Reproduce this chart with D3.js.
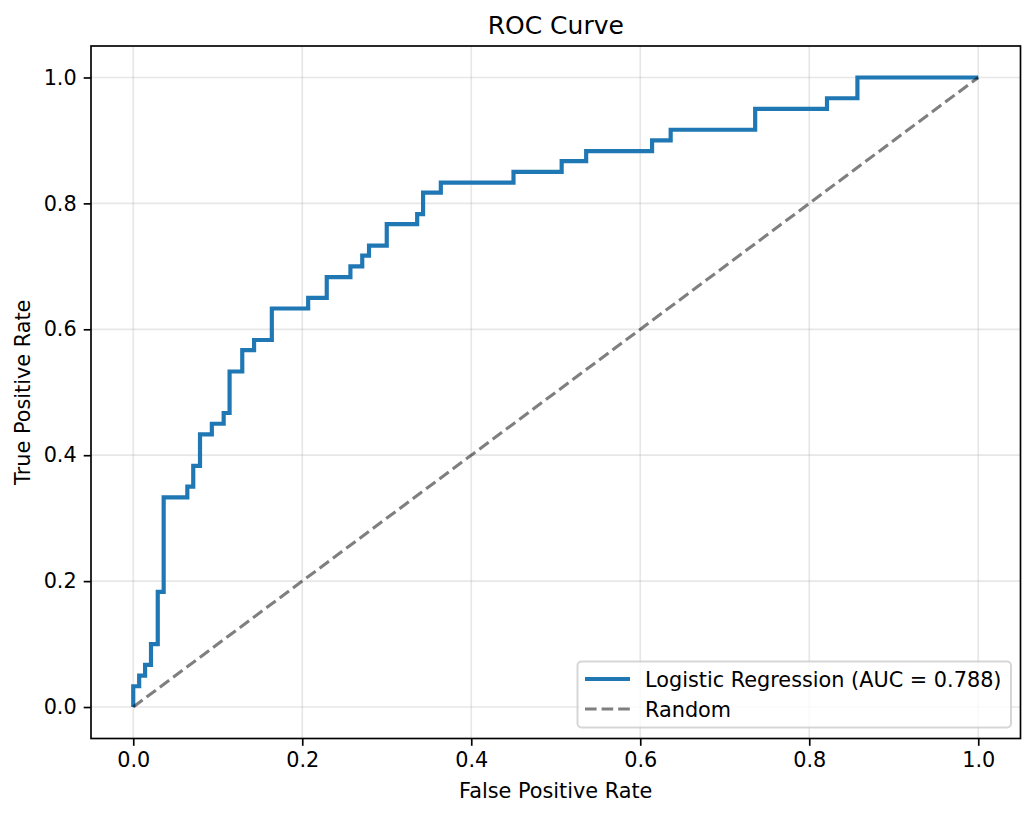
<!DOCTYPE html>
<html>
<head>
<meta charset="utf-8">
<script src="https://cdn.jsdelivr.net/npm/d3@7/dist/d3.min.js"></script>
<style>
  body { margin: 0; background: #fff; }
  svg text { font-family: "DejaVu Sans", sans-serif; fill: #000; }
</style>
</head>
<body>
<svg id="chart" width="1036" height="817"></svg>
<script>
// ROC points (false positive rate, true positive rate)
var fpr = [0, 0, 0.007, 0.014, 0.021, 0.029, 0.036, 0.064, 0.071, 0.079, 0.093,
  0.107, 0.114, 0.129, 0.143, 0.164, 0.207, 0.229, 0.257, 0.271, 0.279,
  0.300, 0.336, 0.343, 0.364, 0.450, 0.507, 0.536, 0.614, 0.636, 0.736,
  0.821, 0.857, 1.0];
var tpr = [0, 0.033, 0.050, 0.067, 0.100, 0.183, 0.333, 0.350, 0.383, 0.433, 0.450,
  0.467, 0.533, 0.567, 0.583, 0.633, 0.650, 0.683, 0.700, 0.717, 0.733,
  0.767, 0.783, 0.817, 0.833, 0.850, 0.867, 0.883, 0.900, 0.917, 0.950,
  0.967, 1.0, 1.0];
var randomLine = [[0, 0], [1, 1]];
var ticks = [0, 0.2, 0.4, 0.6, 0.8, 1.0];
var aucLabel = 'Logistic Regression (AUC = 0.788)';
var randomLabel = 'Random';

// plot box (window.top is read-only, so no "top" here)
var pLeft = 91, pRight = 1020.5, pTop = 46, pBottom = 738.5;
var svg = d3.select('#chart');

var x = d3.scaleLinear().domain([-0.05, 1.05]).range([pLeft, pRight]);
var y = d3.scaleLinear().domain([-0.05, 1.05]).range([pBottom, pTop]);

// grid
var grid = svg.append('g');
grid.selectAll('line.gx').data(ticks).enter().append('line')
  .attr('x1', function (d) { return x(d); }).attr('x2', function (d) { return x(d); })
  .attr('y1', pTop).attr('y2', pBottom)
  .attr('stroke', '#b0b0b0').attr('stroke-opacity', 0.3).attr('stroke-width', 1.67);
grid.selectAll('line.gy').data(ticks).enter().append('line')
  .attr('y1', function (d) { return y(d); }).attr('y2', function (d) { return y(d); })
  .attr('x1', pLeft).attr('x2', pRight)
  .attr('stroke', '#b0b0b0').attr('stroke-opacity', 0.3).attr('stroke-width', 1.67);

var pts = fpr.map(function (v, i) { return [v, tpr[i]]; });

var plot = svg.append('g');
plot.append('path')
  .datum(pts)
  .attr('fill', 'none')
  .attr('stroke', '#1f77b4')
  .attr('stroke-width', 4.17)
  .attr('stroke-linejoin', 'miter')
  .attr('d', d3.line().x(function (d) { return x(d[0]); }).y(function (d) { return y(d[1]); }).curve(d3.curveStepAfter));

plot.append('path')
  .datum(randomLine)
  .attr('fill', 'none')
  .attr('stroke', '#000')
  .attr('stroke-opacity', 0.5)
  .attr('stroke-width', 3.1)
  .attr('stroke-dasharray', '11.6,5')
  .attr('d', d3.line().x(function (d) { return x(d[0]); }).y(function (d) { return y(d[1]); }));

// axes
var fmt = d3.format('.1f');
var xAxis = svg.append('g').attr('transform', 'translate(0,' + pBottom + ')')
  .call(d3.axisBottom(x).tickValues(ticks).tickFormat(fmt).tickSize(7.3).tickPadding(6));
var yAxis = svg.append('g').attr('transform', 'translate(' + pLeft + ',0)')
  .call(d3.axisLeft(y).tickValues(ticks).tickFormat(fmt).tickSize(7.3).tickPadding(7));
[xAxis, yAxis].forEach(function (a) {
  a.select('.domain').remove();
  a.selectAll('.tick line').attr('stroke', '#000').attr('stroke-width', 1.67);
  a.selectAll('.tick text').attr('font-size', '20.8px').attr('font-family', '"DejaVu Sans", sans-serif');
});

svg.append('rect')
  .attr('x', pLeft).attr('y', pTop)
  .attr('width', pRight - pLeft).attr('height', pBottom - pTop)
  .attr('fill', 'none').attr('stroke', '#000').attr('stroke-width', 1.67);

// titles
svg.append('text').attr('x', (pLeft + pRight) / 2).attr('y', 34)
  .attr('text-anchor', 'middle').attr('font-size', '25px').text('ROC Curve');
svg.append('text').attr('x', (pLeft + pRight) / 2).attr('y', 798)
  .attr('text-anchor', 'middle').attr('font-size', '20.8px').text('False Positive Rate');
svg.append('text').attr('transform', 'translate(30,' + ((pTop + pBottom) / 2) + ') rotate(-90)')
  .attr('text-anchor', 'middle').attr('font-size', '20.8px').text('True Positive Rate');

// legend
var lg = svg.append('g');
lg.append('rect')
  .attr('x', 577.5).attr('y', 661.5).attr('width', 433.5).attr('height', 66)
  .attr('rx', 4).attr('ry', 4)
  .attr('fill', '#fff').attr('fill-opacity', 0.8)
  .attr('stroke', '#cccccc').attr('stroke-opacity', 0.8).attr('stroke-width', 2);
lg.append('line').attr('x1', 585).attr('x2', 630).attr('y1', 679).attr('y2', 679)
  .attr('stroke', '#1f77b4').attr('stroke-width', 4.17);
lg.append('line').attr('x1', 585).attr('x2', 630).attr('y1', 709).attr('y2', 709)
  .attr('stroke', '#000').attr('stroke-opacity', 0.5).attr('stroke-width', 3.1)
  .attr('stroke-dasharray', '11.6,5');
lg.append('text').attr('x', 645).attr('y', 686.5).attr('font-size', '20.8px').text(aucLabel);
lg.append('text').attr('x', 645).attr('y', 716.5).attr('font-size', '20.8px').text(randomLabel);
</script>
</body>
</html>
